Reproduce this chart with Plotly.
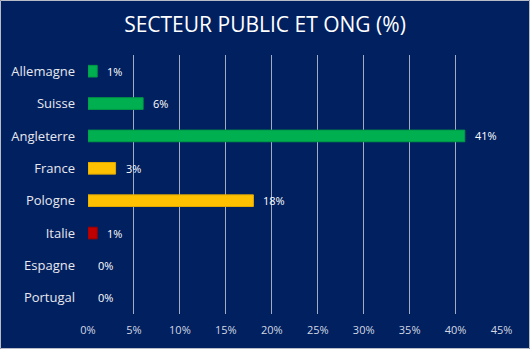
import plotly.graph_objects as go

countries = ["Allemagne", "Suisse", "Angleterre", "France", "Pologne", "Italie", "Espagne", "Portugal"]
values = [1, 6, 41, 3, 18, 1, 0, 0]
colors = ["#00b050", "#00b050", "#00b050", "#ffc000", "#ffc000", "#c00000", "#c00000", "#c00000"]
edges = ["#009a45", "#009a45", "#009a45", "#e0a800", "#e0a800", "#a00000", "rgba(0,0,0,0)", "rgba(0,0,0,0)"]
labels = [f"{v}%" for v in values]
xticks = list(range(0, 50, 5))
xticklabels = [f"{t}%" for t in xticks]

FONT = "'Open Sans', Lato, sans-serif"
BG = "#002060"

fig = go.Figure()
fig.add_trace(go.Bar(
    y=countries, x=values, orientation="h",
    marker=dict(color=colors, line=dict(color=edges, width=1)),
    width=0.36, hoverinfo="skip",
))

for c, v, t in zip(countries, values, labels):
    fig.add_annotation(x=v, y=c, text=t, showarrow=False, xanchor="left",
                       xshift=8, font=dict(family=FONT, size=11, color="#ffffff"))

L, R, T, B = 88, 28, 55, 35
W, H = 530, 349
pw, ph = W - L - R, H - T - B
fig.add_shape(type="rect", xref="paper", yref="paper",
              x0=(0.5 - L) / pw, x1=(W - 0.5 - L) / pw,
              y0=-(B - 0.5) / ph, y1=1 + (T - 0.5) / ph,
              line=dict(color="#b8bcc6", width=1), fillcolor="rgba(0,0,0,0)", layer="below")

fig.update_layout(
    width=W, height=H,
    margin=dict(l=L, r=R, t=T, b=B),
    paper_bgcolor=BG, plot_bgcolor=BG,
    showlegend=False,
    title=dict(text="SECTEUR PUBLIC ET ONG (%)", x=0.5, xref="container", xanchor="center",
               y=1 - 25 / H, yref="container", yanchor="middle",
               font=dict(family=FONT, size=21, color="#ffffff")),
    xaxis=dict(range=[0, 45.05], tickvals=xticks, ticktext=xticklabels,
               showgrid=True, gridcolor="#a3abc3", gridwidth=1, zeroline=False,
               showline=False, ticks="", ticklabelstandoff=8,
               tickfont=dict(family=FONT, size=11, color="#d4d8e2"), fixedrange=True),
    yaxis=dict(categoryorder="array", categoryarray=countries[::-1],
               showgrid=False, zeroline=False, showline=False, ticks="",
               ticklabelstandoff=12,
               tickfont=dict(family=FONT, size=13, color="#e8e8ee"), fixedrange=True),
)

fig.write_html("out.html")
